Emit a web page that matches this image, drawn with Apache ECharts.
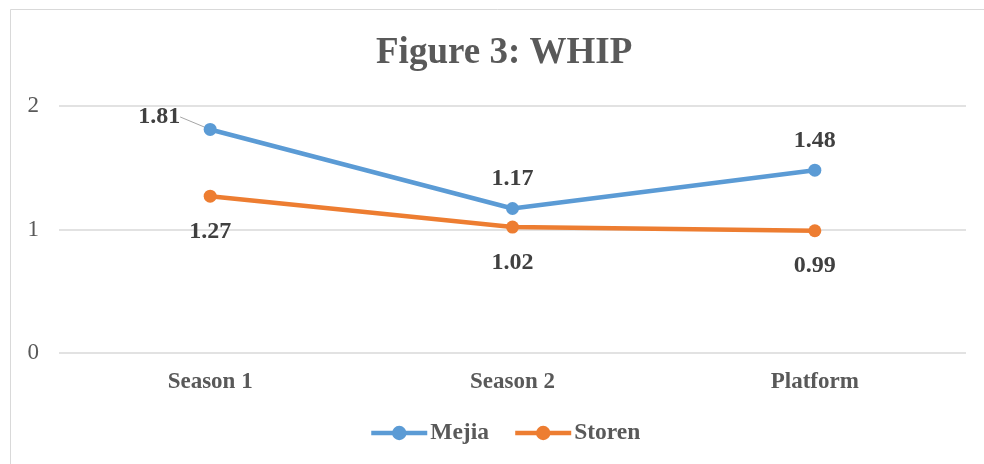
<!DOCTYPE html>
<html>
<head>
<meta charset="utf-8">
<script src="https://cdn.jsdelivr.net/npm/echarts@6/dist/echarts.min.js"></script>
<style>
  html, body { margin: 0; padding: 0; background: #fff; }
  #chart { width: 984px; height: 464px; }
</style>
</head>
<body>
<div id="chart"></div>
<script>
var categories = ['Season 1', 'Season 2', 'Platform'];
var mejia = [1.81, 1.17, 1.48];
var storen = [1.27, 1.02, 0.99];
var yTicks = [0, 1, 2];

var serif = '"Liberation Serif", "Times New Roman", serif';
var myChart = echarts.init(document.getElementById('chart'));

// only the first Mejia label gets a leader line
var mejiaData = mejia.map(function (v, i) {
  return i === 0 ? { value: v, labelLine: { show: true } } : { value: v, labelLine: { show: false } };
});

var option = {
  backgroundColor: '#fff',
  // frame around the chart
  graphic: [{
    type: 'rect',
    shape: { x: 10.5, y: 9.5, width: 1000, height: 500 },
    style: { fill: 'none', stroke: '#d9d9d9', lineWidth: 1 },
    silent: true
  }],
  title: {
    text: 'Figure 3: WHIP',
    left: 371,
    top: 30,
    textStyle: { fontFamily: serif, fontWeight: 'bold', fontSize: 37, color: '#595959' }
  },
  legend: {
    bottom: 14,
    left: 364,
    itemWidth: 56,
    itemHeight: 18,
    itemGap: 24,
    data: ['Mejia', 'Storen'],
    lineStyle: { width: 4.5 },
    textStyle: { fontFamily: serif, fontWeight: 'bold', fontSize: 23.5, color: '#595959', padding: [0, 0, 0, -2] }
  },
  grid: { left: 59, right: 18, top: 106, bottom: 111, containLabel: false },
  xAxis: {
    type: 'category',
    data: categories,
    boundaryGap: true,
    axisLine: { show: false },
    axisTick: { show: false },
    axisLabel: { fontFamily: serif, fontWeight: 'bold', fontSize: 23, color: '#595959', margin: 18 }
  },
  yAxis: {
    type: 'value',
    min: yTicks[0],
    max: yTicks[yTicks.length - 1],
    interval: 1,
    axisLine: { show: false },
    axisTick: { show: false },
    splitLine: { lineStyle: { color: '#d9d9d9', width: 1.5 } },
    axisLabel: { fontFamily: serif, fontSize: 23, color: '#595959', margin: 20 }
  },
  series: [{
    name: 'Mejia',
    type: 'line',
    data: mejiaData,
    color: '#5B9BD5',
    symbol: 'circle',
    symbolSize: 13,
    lineStyle: { width: 4.5 },
    label: {
      show: true,
      position: 'top',
      distance: 11,
      fontFamily: serif, fontWeight: 'bold', fontSize: 24, color: '#404040'
    },
    labelLine: { lineStyle: { color: '#a6a6a6', width: 1 } },
    labelLayout: function (p) {
      if (p.dataIndex === 0) return { dx: -51, dy: 17 };
      return {};
    }
  }, {
    name: 'Storen',
    type: 'line',
    data: storen,
    color: '#ED7D31',
    symbol: 'circle',
    symbolSize: 13,
    lineStyle: { width: 4.5 },
    label: {
      show: true,
      position: 'bottom',
      distance: 17,
      fontFamily: serif, fontWeight: 'bold', fontSize: 24, color: '#404040'
    }
  }]
};

myChart.setOption(option);
</script>
</body>
</html>
